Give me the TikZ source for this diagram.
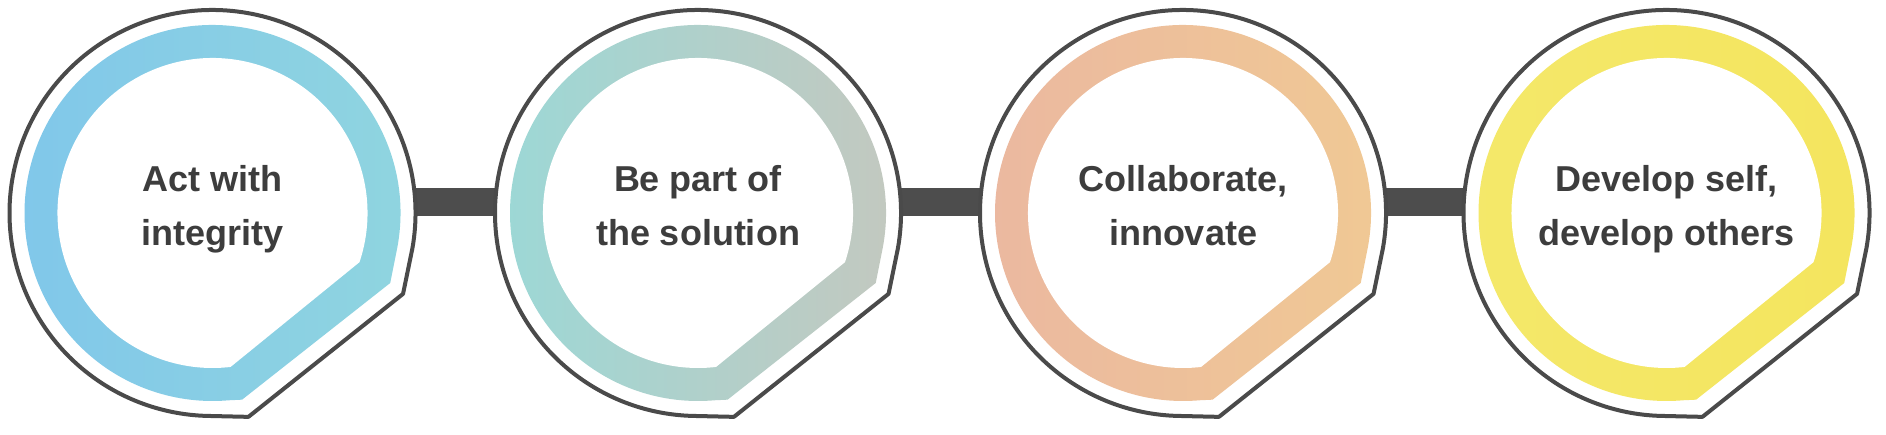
\documentclass[tikz,border=0pt]{standalone}
\usepackage{fontspec}
\setmainfont{Liberation Sans}
\definecolor{edgegray}{HTML}{4A4A4A}
\definecolor{bargray}{HTML}{4D4D4D}
\definecolor{txtgray}{HTML}{3D3D3D}
\definecolor{blueL}{HTML}{80C7EA}
\definecolor{blueR}{HTML}{90D5DF}
\definecolor{tealL}{HTML}{9CD8D6}
\definecolor{tealR}{HTML}{C4C8BF}
\definecolor{peachL}{HTML}{EBB8A0}
\definecolor{peachR}{HTML}{F0C994}
\definecolor{yellowL}{HTML}{F4E86A}
\definecolor{yellowR}{HTML}{F4E55E}
\tikzset{
  outline/.style={draw=edgegray, line width=4pt, fill=white, line join=round},
  linkbar/.style={draw=bargray, line width=28pt},
  badgetext/.style={text=txtgray, font=\fontsize{36}{54}\selectfont\bfseries, inner sep=0pt, anchor=base}
}
\newcommand\badge[6]{%
  \begin{scope}[shift={(#1)}]
    \draw[outline] (-10:203) arc[start angle=-10,end angle=268,radius=203]
      -- (-80:207) -- (-23:207) -- cycle;
    \shade[left color=#3,right color=#4] (-12:188) arc[start angle=-12,end angle=275,radius=188]
      -- (-81:189) -- (-21.5:191) -- cycle;
    \fill[white] (-18.5:155) arc[start angle=-18.5,end angle=276.7,radius=155] -- cycle;
  \end{scope}
  \node[badgetext] (#2) at ([yshift=21pt]#1) {\begin{tabular}[t]{@{}c@{}}#5\\#6\end{tabular}};
}
\begin{document}
\begin{tikzpicture}[x=1pt,y=1pt]
  \useasboundingbox (0,0) rectangle (1886,434);
  \coordinate (c1) at (212.5,221);
  \coordinate (c2) at (698,221);
  \coordinate (c3) at (1183,221);
  \coordinate (c4) at (1666.5,221);
  \draw[linkbar] ([yshift=11pt]c1) -- ([yshift=11pt]c2);
  \draw[linkbar] ([yshift=11pt]c2) -- ([yshift=11pt]c3);
  \draw[linkbar] ([yshift=11pt]c3) -- ([yshift=11pt]c4);
  \badge{c1}{t1}{blueL}{blueR}{Act with}{integrity}
  \badge{c2}{t2}{tealL}{tealR}{Be part of}{the solution}
  \badge{c3}{t3}{peachL}{peachR}{Collaborate,}{innovate}
  \badge{c4}{t4}{yellowL}{yellowR}{Develop self,}{develop others}
\end{tikzpicture}
\end{document}
